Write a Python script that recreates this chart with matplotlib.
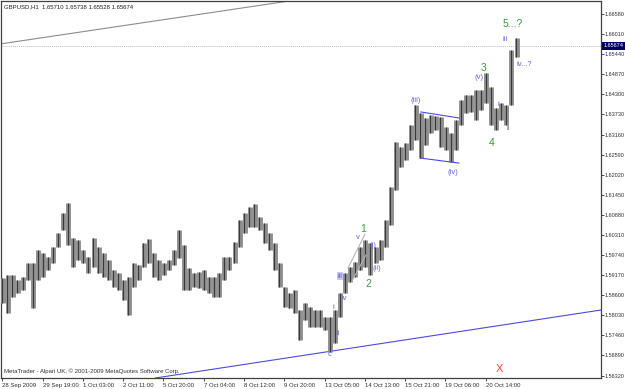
import numpy as np
import matplotlib
matplotlib.use("Agg")
import matplotlib.pyplot as plt
import matplotlib.transforms as mtransforms

# ---- data (GBPUSD H1, each entry = range of 4 hourly bars) ----
highs = [1.5908, 1.5917, 1.5917, 1.5903, 1.5911, 1.5951, 1.5951, 1.5988, 1.5979, 1.5968,
         1.5997, 1.6036, 1.6093, 1.6121, 1.6022, 1.6016, 1.5988, 1.5968, 1.6022, 1.5997,
         1.5979, 1.5960, 1.5931, 1.5923, 1.5903, 1.5911, 1.5951, 1.5945, 1.6008, 1.6019,
         1.5979, 1.5960, 1.5951, 1.5960, 1.5988, 1.6045, 1.6002, 1.5937, 1.5923, 1.5926,
         1.5931, 1.5911, 1.5911, 1.5923, 1.5968, 1.5968, 1.6011, 1.6073, 1.6093, 1.6110,
         1.6119, 1.6082, 1.6065, 1.6036, 1.6008, 1.5951, 1.5883, 1.5866, 1.5874, 1.5818,
         1.5837, 1.5826, 1.5818, 1.5818, 1.5798, 1.5798, 1.5818, 1.5866, 1.5923, 1.5940,
         1.5954, 1.5997, 1.6016, 1.6008, 1.5997, 1.6016, 1.6073, 1.6167, 1.6295, 1.6281,
         1.6292, 1.6343, 1.6400, 1.6377, 1.6363, 1.6371, 1.6369, 1.6366, 1.6337, 1.6320,
         1.6357, 1.6414, 1.6428, 1.6428, 1.6442, 1.6442, 1.6491, 1.6451, 1.6391, 1.6405,
         1.6400, 1.6556, 1.6590]
lows = [1.5837, 1.5809, 1.5854, 1.5866, 1.5874, 1.5903, 1.5823, 1.5903, 1.5911, 1.5931,
        1.5951, 1.5997, 1.6045, 1.6002, 1.5940, 1.5960, 1.5951, 1.5923, 1.5940, 1.5923,
        1.5911, 1.5903, 1.5883, 1.5874, 1.5846, 1.5803, 1.5883, 1.5903, 1.5940, 1.5951,
        1.5911, 1.5903, 1.5917, 1.5931, 1.5945, 1.5965, 1.5874, 1.5874, 1.5883, 1.5880,
        1.5874, 1.5866, 1.5854, 1.5854, 1.5903, 1.5931, 1.5951, 1.5997, 1.6036, 1.6053,
        1.6053, 1.6045, 1.6008, 1.5988, 1.5931, 1.5883, 1.5826, 1.5823, 1.5809, 1.5732,
        1.5789, 1.5769, 1.5769, 1.5769, 1.5761, 1.5698, 1.5724, 1.5798, 1.5866, 1.5897,
        1.5911, 1.5931, 1.5940, 1.5917, 1.5951, 1.5960, 1.5997, 1.6059, 1.6158, 1.6224,
        1.6244, 1.6272, 1.6300, 1.6249, 1.6286, 1.6320, 1.6329, 1.6281, 1.6272, 1.6238,
        1.6272, 1.6343, 1.6377, 1.6380, 1.6357, 1.6386, 1.6405, 1.6343, 1.6329, 1.6357,
        1.6343, 1.6400, 1.6536]
bars_per_step = 4

time_labels = ["28 Sep 2009", "29 Sep 19:00", "1 Oct 03:00", "2 Oct 11:00", "5 Oct 20:00",
               "7 Oct 04:00", "8 Oct 12:00", "9 Oct 20:00", "13 Oct 05:00", "14 Oct 13:00",
               "15 Oct 21:00", "19 Oct 06:00", "20 Oct 14:00"]
bars_between_labels = 32

price_ticks = [1.56320, 1.56890, 1.57460, 1.58030, 1.58600, 1.59170, 1.59740, 1.60310,
               1.60880, 1.61450, 1.62020, 1.62590, 1.63160, 1.63730, 1.64300, 1.64870,
               1.65440, 1.66010, 1.66580]
last_price = 1.65674
header = "GBPUSD,H1  1.65710 1.65738 1.65528 1.65674"
copyright_txt = "MetaTrader - Alpari UK, \u00a9 2001-2009 MetaQuotes Software Corp."

# trendlines: (bar index, price) pairs
gray_trend = [(-1.8, 1.6573), (222.2, 1.6692)]
blue_trend = [(125.3, 1.5627), (475.6, 1.5818)]
channel_upper = [(332.6, 1.6380), (362.8, 1.6363)]
channel_lower = [(332.6, 1.6249), (362.8, 1.6235)]
wedge_upper = [(274.6, 1.5937), (288.1, 1.6033)]
wedge_lower = [(277.8, 1.5900), (288.9, 1.5974)]

# wave labels: (text, bar index, price, kind)
wave_labels = [
    ("5...?", 405.7, 1.6630, "major"), ("iii", 399.3, 1.6587, "minor"),
    ("iv...?", 414.4, 1.6516, "minor"), ("3", 382.6, 1.6505, "major"),
    ("(v)", 378.7, 1.6479, "minor"), ("i", 393.8, 1.6400, "minor"),
    ("ii", 401.7, 1.6334, "minor"), ("4", 389.0, 1.6292, "major"),
    ("(iii)", 328.6, 1.6414, "minor"), ("(iv)", 358.0, 1.6207, "minor"),
    ("1", 286.5, 1.6048, "major"), ("v", 282.6, 1.6025, "minor"),
    ("(i)", 294.5, 1.6002, "minor"), ("iii", 268.3, 1.5914, "boxed"),
    ("(ii)", 297.6, 1.5937, "minor"), ("2", 290.5, 1.5891, "major"),
    ("iv", 271.4, 1.5852, "minor"), ("i", 262.7, 1.5826, "minor"),
    ("ii", 266.7, 1.5752, "minor"), ("c", 260.3, 1.5693, "minor"),
    ("X", 394.6, 1.5650, "red"),
]

FONT = "Liberation Sans"
SMALL = 4.3
YSMALL = 4.0
fig = plt.figure(figsize=(6.25, 3.89), dpi=100)
fig.patch.set_facecolor("white")
ax = fig.add_axes([1 / 625, 11 / 389, 600 / 625, 377 / 389])
ax.set_facecolor("white")
ax.set_xlim(-1, 475.6)
ax.set_ylim(1.5625, 1.6695)

# price bars
pos = np.arange(len(highs)) * bars_per_step + 0.5
ax.vlines(pos, lows, highs, color="#8e8e8e", linewidth=3.5, zorder=3)
ax.vlines(pos - 0.4, lows, highs, color="#3a3a3a", linewidth=0.8, zorder=4)

# bid line
ax.axhline(last_price, color="#bdbdbd", linestyle=(0, (1, 1)), linewidth=0.7, zorder=1)

# trendlines
ax.axline(gray_trend[0], gray_trend[1], color="#8c8c8c", linewidth=0.8, zorder=2)
ax.axline(blue_trend[0], blue_trend[1], color="#4b4bdc", linewidth=0.8, zorder=2)
for seg, col in [(channel_upper, "#4b4bdc"), (channel_lower, "#4b4bdc"),
                 (wedge_upper, "#b4b4b4"), (wedge_lower, "#b4b4b4")]:
    ax.plot([seg[0][0], seg[1][0]], [seg[0][1], seg[1][1]], color=col, linewidth=0.8, zorder=5)

# wave labels
for txt, xi, yi, kind in wave_labels:
    if kind == "major":
        ax.text(xi, yi, txt, color="#3c9a3c", fontsize=7.5, ha="center", va="center",
                family=FONT, zorder=6)
    elif kind == "red":
        ax.text(xi, yi, txt, color="#ff4040", fontsize=8, ha="center", va="center",
                family=FONT, zorder=6)
    elif kind == "boxed":
        ax.text(xi, yi, txt, color="#5a5ad0", fontsize=5.2, ha="center", va="center",
                family=FONT, zorder=6,
                bbox=dict(facecolor="#c8c8f0", edgecolor="none", pad=0.3))
    else:
        ax.text(xi, yi, txt, color="#6464d8", fontsize=5.5, ha="center", va="center",
                family=FONT, zorder=6)

# axes styling
for s in ax.spines.values():
    s.set_color("#404040")
    s.set_linewidth(0.9)

ax.yaxis.tick_right()
ax.set_yticks(price_ticks)
ax.set_yticklabels([f"{p:.5f}" for p in price_ticks])
ax.tick_params(axis="y", length=2.0, width=0.6, pad=0.6, labelsize=YSMALL, colors="#303030")

xt = np.arange(len(time_labels)) * bars_between_labels
ax.set_xticks(xt)
ax.set_xticklabels(time_labels)
ax.tick_params(axis="x", length=2.5, width=0.6, pad=0.8, labelsize=SMALL, colors="#303030")
for lab in ax.get_xticklabels() + ax.get_yticklabels():
    lab.set_family(FONT)
for lab in ax.get_xticklabels():
    lab.set_horizontalalignment("left")

# current price marker on the axis
trans = mtransforms.blended_transform_factory(ax.transAxes, ax.transData)
ax.text(1.0 + 2.5 / 600, last_price, f"{last_price:.5f}", transform=trans, ha="left", va="center",
        color="white", fontsize=YSMALL, family=FONT, zorder=10, clip_on=False,
        bbox=dict(facecolor="#000060", edgecolor="none", pad=0.8))

ax.text(3 / 600, 1 - 6 / 377, header, transform=ax.transAxes, ha="left", va="center",
        fontsize=SMALL, family=FONT, color="#202020")
ax.text(3 / 600, 7 / 377, copyright_txt, transform=ax.transAxes, ha="left", va="center",
        fontsize=SMALL, family=FONT, color="#303030")

fig.savefig("out.png", dpi=100, facecolor="white")
